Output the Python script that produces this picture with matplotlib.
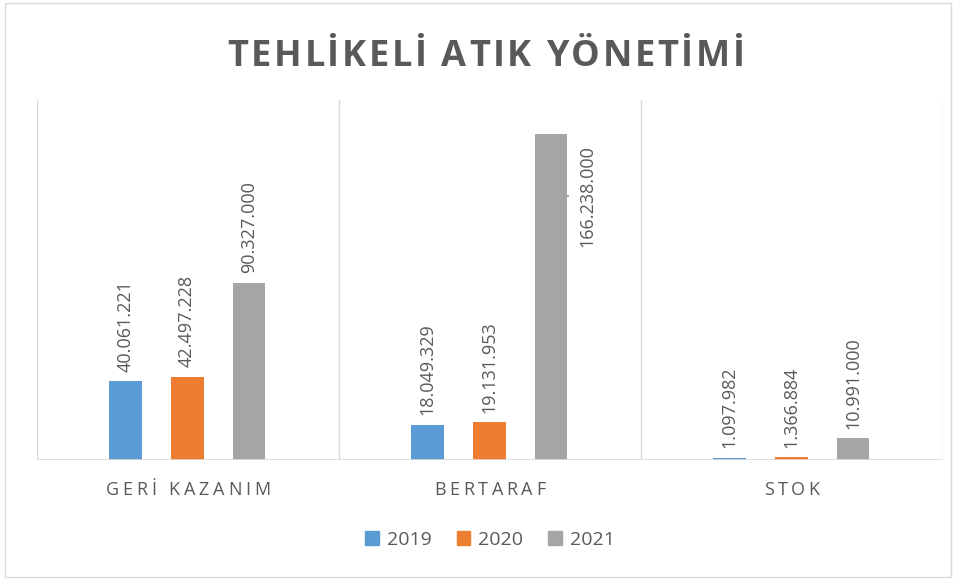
import matplotlib
matplotlib.use('Agg')
import matplotlib.pyplot as plt
from matplotlib.font_manager import FontProperties
from matplotlib.patches import Rectangle
from matplotlib.transforms import IdentityTransform

plt.rcParams['font.family'] = ['Open Sans', 'DejaVu Sans']

# data
categories = ['GERİ KAZANIM', 'BERTARAF', 'STOK']
years = ['2019', '2020', '2021']
v2019 = [40061221, 18049329, 1097982]
v2020 = [42497228, 19131953, 1366884]
v2021 = [90327000, 166238000, 10991000]
title = 'TEHLİKELİ ATIK YÖNETİMİ'

colors = ['#5B9BD5', '#ED7D31', '#A5A5A5']
grey = '#595959'
line = '#D9D9D9'

W, H = 956, 580
fig = plt.figure(figsize=(W / 100, H / 100), dpi=100)
ax = fig.add_axes([37 / W, 1 - 460 / H, 906 / W, 360 / H])


def fmt(v):
    return '{:,}'.format(v).replace(',', '.')


def spaced_text(xc, y, s, width, size, weight='normal'):
    # Excel style letter spacing: place every char by hand, in pixels
    r = fig.canvas.get_renderer()
    fp = FontProperties(family=['Open Sans', 'DejaVu Sans'], size=size, weight=weight)
    ws = [r.get_text_width_height_descent(c, fp, ismath=False)[0] for c in s]
    gap = (width - sum(ws)) / (len(s) - 1)
    x = xc - width / 2
    for c, w in zip(s, ws):
        fig.text(x, y, c, transform=IdentityTransform(), fontproperties=fp,
                 color=grey, ha='left', va='baseline')
        x += w + gap


series = [v2019, v2020, v2021]
bw = 0.109
step = 0.205
for k, vals in enumerate(series):
    xs = [i + (k - 1) * step - 0.003 for i in range(len(categories))]
    ax.bar(xs, vals, width=bw, color=colors[k], label=years[k], zorder=3)
    for x, v in zip(xs, vals):
        if v > 150e6:
            # too tall, label sits beside the bar
            ax.annotate(fmt(v), (x + bw / 2, v * 0.81), xytext=(14, 0),
                        textcoords='offset points', rotation=90,
                        ha='center', va='center', fontsize=13, color=grey)
            ax.annotate('', (x + bw / 2, v * 0.81), xytext=(x + bw / 2 + 0.013, v * 0.81),
                        arrowprops=dict(arrowstyle='-', color=grey, lw=0.8))
        else:
            ax.annotate(fmt(v), (x, v), xytext=(0, 7), textcoords='offset points',
                        rotation=90, ha='center', va='bottom', fontsize=13, color=grey)

ax.set_xlim(-0.5, len(categories) - 0.5)
ax.set_ylim(0, 183.6e6)
for b in range(len(categories) + 1):
    ax.axvline(b - 0.5, color=line, lw=1, zorder=1)
ax.axhline(0, color=line, lw=1.2, zorder=4)
for s in ax.spines.values():
    s.set_visible(False)
ax.set_xticks([])
ax.set_yticks([])

# category labels with letter spacing
label_w = [165, 111, 55]
for i, (c, w) in enumerate(zip(categories, label_w)):
    xc = ax.transData.transform((i, 0))[0]
    spaced_text(xc, H - 495, c, w, 13)

spaced_text(486, H - 66, title, 517, 26, weight='bold')

handles = [Rectangle((0, 0), 1, 1, color=c) for c in colors]
fig.legend(handles, years, loc='center', bbox_to_anchor=(490 / W, 1 - 540 / H),
           ncol=3, frameon=False, fontsize=14, labelcolor=grey,
           handlelength=0.7, handleheight=0.7, handletextpad=0.4, columnspacing=1.3)

fig.patches.append(Rectangle((5 / W, 3 / H), 946 / W, 574 / H, transform=fig.transFigure,
                             fill=False, ec=line, lw=1))

fig.savefig('out.png', dpi=100)
